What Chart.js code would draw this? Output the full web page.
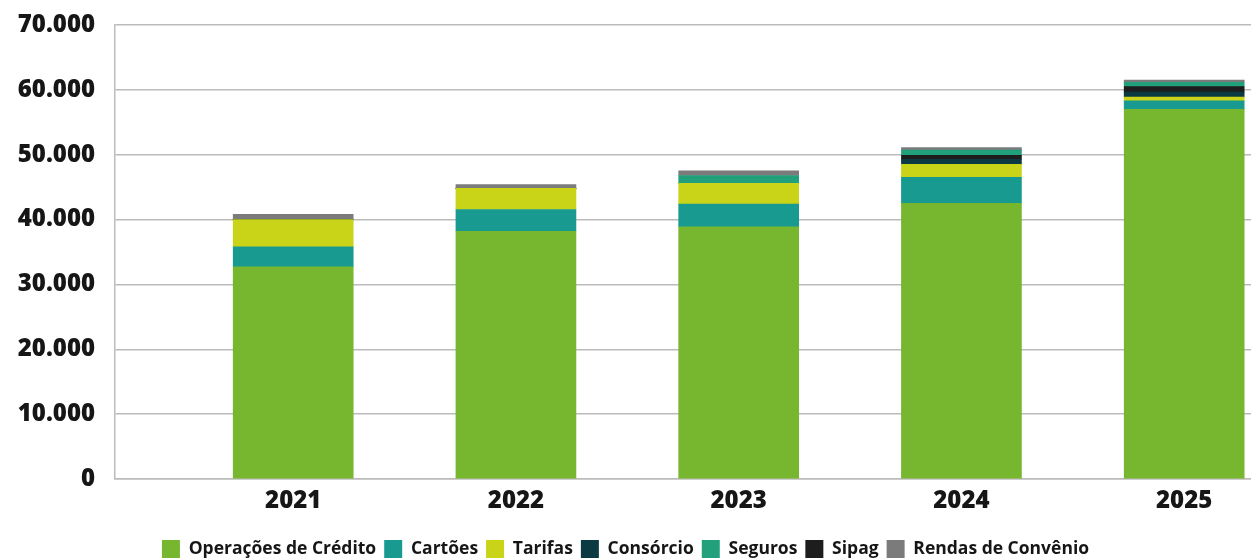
<!DOCTYPE html>
<html lang="pt-BR">
<head>
<meta charset="utf-8">
<script src="https://cdn.jsdelivr.net/npm/chart.js@4.4.1/dist/chart.umd.min.js"></script>
<style>
  html, body { margin: 0; padding: 0; background: #fff; }
  #wrap { width: 1251px; height: 560px; }
</style>
</head>
<body>
<div id="wrap"><canvas id="chart-receitas"></canvas></div>
<script>
const anos = [2021, 2022, 2023, 2024, 2025];

// receitas por origem (R$ mil), na ordem em que empilham
const operacoesCredito = [32700, 38200, 38900, 42500, 57000];
const cartoes = [3100, 3350, 3500, 4000, 1300];
const tarifas = [4200, 3250, 3200, 2000, 600];
const consorcio = [0, 0, 0, 800, 750];
const sipag = [0, 0, 0, 600, 850];
const seguros = [0, 0, 1200, 800, 650];
const rendasConvenio = [800, 600, 700, 400, 350];

const ticksY = [0, 10000, 20000, 30000, 40000, 50000, 60000, 70000];
const ordemLegenda = [
    'Operações de Crédito', 'Cartões', 'Tarifas', 'Consórcio',
    'Seguros', 'Sipag', 'Rendas de Convênio'
];

const serie = (label, valores, cor) => ({
    label: label,
    data: valores.map((v, i) => ({ x: anos[i], y: v })),
    backgroundColor: cor,
    borderWidth: 0,
    barThickness: 120
});

const formatarMilhar = v => String(v).replace(/\B(?=(\d{3})+(?!\d))/g, '.');

Chart.defaults.font.family = "'Open Sans', 'Noto Sans', sans-serif";
Chart.defaults.font.weight = '800';
Chart.defaults.color = '#161616';

const config = {
    type: 'bar',
    data: {
        datasets: [
            serie('Operações de Crédito', operacoesCredito, '#77b62f'),
            serie('Cartões', cartoes, '#199a90'),
            serie('Tarifas', tarifas, '#c9d318'),
            serie('Consórcio', consorcio, '#0c3a42'),
            serie('Sipag', sipag, '#1d1d1d'),
            serie('Seguros', seguros, '#22a07c'),
            serie('Rendas de Convênio', rendasConvenio, '#7b7b7b')
        ]
    },
    options: {
        responsive: true,
        maintainAspectRatio: false,
        animation: false,
        layout: {
            // legenda encostada na base do canvas
            padding: { top: 25, left: 0, right: 0, bottom: -8 }
        },
        scales: {
            x: {
                type: 'linear',
                stacked: true,
                offset: false,
                min: 2020.2,
                max: 2025.3,
                afterBuildTicks: scale => {
                    scale.ticks = anos.map(a => ({ value: a }));
                },
                afterFit: scale => { scale.height = 53; },
                grid: { display: false },
                border: { color: '#bbbbbb', width: 1.5 },
                ticks: {
                    padding: 0,
                    font: { size: 24, weight: '800' },
                    callback: v => String(v)
                }
            },
            y: {
                stacked: true,
                min: 0,
                max: 70000,
                afterBuildTicks: scale => {
                    scale.ticks = ticksY.map(v => ({ value: v }));
                },
                afterFit: scale => {
                    scale.width = 115;
                    scale.paddingTop = 0;
                    scale.paddingBottom = 0;
                },
                grid: { color: '#bbbbbb', lineWidth: 1.5, drawTicks: false },
                border: { color: '#bbbbbb', width: 1.5 },
                ticks: {
                    padding: 20,
                    font: { size: 24, weight: '800' },
                    callback: v => formatarMilhar(v)
                }
            }
        },
        plugins: {
            legend: {
                position: 'bottom',
                labels: {
                    boxWidth: 18,
                    boxHeight: 18,
                    padding: 8,
                    color: '#161616',
                    font: { size: 17.5, weight: 'bold' },
                    sort: (a, b) => ordemLegenda.indexOf(a.text) - ordemLegenda.indexOf(b.text)
                }
            },
            tooltip: { enabled: false }
        }
    }
};

const graficoReceitas = new Chart(document.getElementById('chart-receitas'), config);
</script>
</body>
</html>
